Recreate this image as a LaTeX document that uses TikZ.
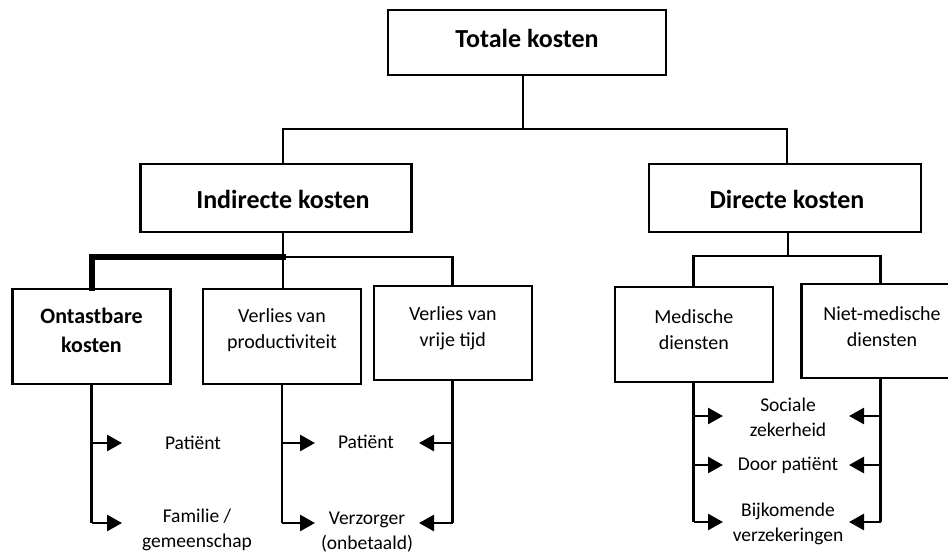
\documentclass[tikz,border=0pt]{standalone}
\usepackage{fontspec}
\setmainfont{Carlito}
\usetikzlibrary{arrows.meta}
\begin{document}
\begin{tikzpicture}[x=1pt,y=-1pt,
  box/.style={draw=black,line width=2.6pt,fill=white,inner sep=0pt,align=center},
  link/.style={draw=black,line width=2.7pt},
  boldlink/.style={draw=black,line width=6pt,line join=miter,line cap=rect},
  arr/.style={link,-{Triangle[length=15pt,width=16pt]}},
  head/.style={font=\fontsize{26}{30}\selectfont\bfseries,inner sep=0pt},
  boldsub/.style={font=\fontsize{22}{29}\selectfont\bfseries,align=center,inner sep=0pt},
  sub/.style={font=\fontsize{20}{26.5}\selectfont,align=center,inner sep=0pt},
  item/.style={font=\fontsize{19.5}{25}\selectfont,align=center,inner sep=0pt}]
\useasboundingbox (0,0) rectangle (948,554);
\clip (0,0) rectangle (948,554);

% level 0 and 1
\node[box,minimum width=278pt,minimum height=65pt] (tot) at (527,42.5) {};
\node[head] (totT) at (527,38.5) {Totale kosten};
\node[box,minimum width=271pt,minimum height=68pt] (ind) at (276,198) {};
\node[head] (indT) at (283,199) {Indirecte kosten};
\node[box,minimum width=272pt,minimum height=68pt] (dir) at (785,198) {};
\node[head] (dirT) at (787,199) {Directe kosten};

% level 2
\node[box,minimum width=158pt,minimum height=95pt] (ont) at (91.5,336.5) {};
\node[boldsub] (ontT) at (91.5,330) {Ontastbare\\kosten};
\node[box,minimum width=158pt,minimum height=95pt] (prod) at (282,336.5) {};
\node[sub] (prodT) at (282,330) {Verlies van\\productiviteit};
\node[box,minimum width=158pt,minimum height=94pt] (vrij) at (452.8,332.8) {};
\node[sub] (vrijT) at (452.8,328.5) {Verlies van\\vrije tijd};
\node[box,minimum width=158pt,minimum height=95pt] (med) at (693.8,334.3) {};
\node[sub] (medT) at (693.8,329.5) {Medische\\diensten};
% this box runs past the right edge of the page
\node[box,minimum width=180pt,minimum height=94pt] (niet) at (891.7,331) {};
\node[sub] (nietT) at (882,326.5) {Niet-medische\\diensten};

% cost bearers
\node[item] (pat1) at (193,443) {Patiënt};
\node[item] (fam) at (197,530) {Familie /\\gemeenschap};
\node[item] (pat2) at (366,442) {Patiënt};
\node[item] (verz) at (367,532) {Verzorger\\(onbetaald)};
\node[item] (soc) at (788,417) {Sociale\\zekerheid};
\node[item] (door) at (788,465) {Door patiënt};
\node[item] (bijk) at (788,523.5) {Bijkomende\\verzekeringen};

% tree connectors
\coordinate (t0) at (523,129);
\coordinate (iTop) at (283,129);
\coordinate (dTop) at (787,129);
\draw[link] (t0 |- tot.south) -- (t0);
\draw[link] (iTop |- ind.north) -- (iTop) -- (dTop) -- (dTop |- dir.north);

\coordinate (iJ) at (283,257);
\draw[link] (iJ |- ind.south) -- (iJ |- prod.north);
\draw[link] (iJ) -| (vrij.north);
\draw[boldlink] (iJ) -| (ont.north);

\coordinate (dJ) at (788,256);
\coordinate (nJ) at (880.5,256);
\draw[link] (dJ |- dir.south) -- (dJ);
\draw[link] (med.north) |- (dJ) -- (nJ) -- (nJ |- niet.north);

% arrow tips next to the cost bearers
\coordinate (o1) at (122,443);
\coordinate (o2) at (122,523);
\coordinate (p1) at (315,443);
\coordinate (p2) at (315,523);
\coordinate (v1) at (419,443);
\coordinate (v2) at (419,523);
\coordinate (m1) at (723,416);
\coordinate (m2) at (723,465);
\coordinate (m3) at (723,522);
\coordinate (n1) at (849,416);
\coordinate (n2) at (849,465);
\coordinate (n3) at (849,522);

\draw[link] (ont.south) -- (ont.south |- o2);
\draw[arr] (ont.south |- o1) -- (o1);
\draw[arr] (ont.south |- o2) -- (o2);

\draw[link] (prod.south) -- (prod.south |- p2);
\draw[arr] (prod.south |- p1) -- (p1);
\draw[arr] (prod.south |- p2) -- (p2);

\draw[link] (vrij.south) -- (vrij.south |- v2);
\draw[arr] (vrij.south |- v1) -- (v1);
\draw[arr] (vrij.south |- v2) -- (v2);

\draw[link] (med.south) -- (med.south |- m3);
\draw[arr] (med.south |- m1) -- (m1);
\draw[arr] (med.south |- m2) -- (m2);
\draw[arr] (med.south |- m3) -- (m3);

\draw[link] (nJ |- niet.south) -- (nJ |- n3);
\draw[arr] (nJ |- n1) -- (n1);
\draw[arr] (nJ |- n2) -- (n2);
\draw[arr] (nJ |- n3) -- (n3);
\end{tikzpicture}
\end{document}
